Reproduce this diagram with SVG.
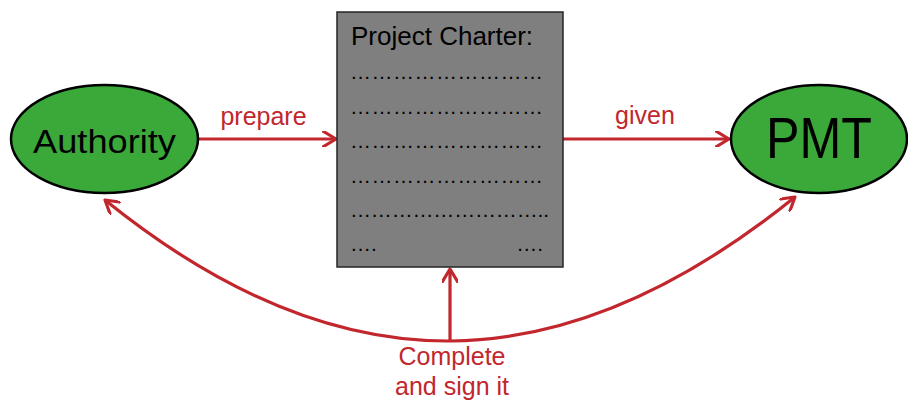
<svg xmlns="http://www.w3.org/2000/svg" width="908" height="403" viewBox="0 0 908 403">
<defs>
<style>
.node{fill:#3aa93a;stroke:#000;stroke-width:2.5}
.box{fill:#7f7f7f;stroke:#262626;stroke-width:1.5}
.conn{fill:none;stroke:#c1272d;stroke-width:3.2}
.lbl{font-family:"Liberation Sans",Arial,sans-serif;font-size:25px;fill:#c1272d;text-anchor:middle}
.ntxt{font-family:"Liberation Sans",Arial,sans-serif;fill:#000;text-anchor:middle}
.doc{font-family:"Liberation Sans",Arial,sans-serif;fill:#000}
</style>
<marker id="arr" viewBox="0 0 16 16" refX="14" refY="8" markerWidth="16" markerHeight="16" markerUnits="userSpaceOnUse" orient="auto-start-reverse">
<path d="M1.5,0.5 L14,8 L1.5,15.5" fill="none" stroke="#c1272d" stroke-width="3.2" stroke-linecap="round" stroke-linejoin="round"/>
</marker>
</defs>
<g id="connectors">
<line class="conn" x1="198" y1="139" x2="336" y2="139" marker-end="url(#arr)"/>
<line class="conn" x1="563" y1="139" x2="729" y2="139" marker-end="url(#arr)"/>
<line class="conn" x1="450" y1="340" x2="450" y2="269" marker-end="url(#arr)"/>
<path class="conn" d="M105,200 C340,390 560,387 795,197" marker-start="url(#arr)" marker-end="url(#arr)"/>
<text class="lbl" x="263.5" y="125">prepare</text>
<text class="lbl" x="645" y="124">given</text>
<text class="lbl" x="452" y="365">Complete</text>
<text class="lbl" x="452" y="395">and sign it</text>
</g>
<g id="authority">
<ellipse class="node" cx="104.5" cy="139" rx="93.5" ry="54"/>
<text class="ntxt" x="104.5" y="153" font-size="34" textLength="143" lengthAdjust="spacingAndGlyphs">Authority</text>
</g>
<g id="charter">
<rect class="box" x="337" y="12" width="226" height="255"/>
<text class="doc" x="351" y="45" font-size="26">Project Charter:</text>
<text class="doc" x="350" y="79" font-size="21" textLength="193">………………………</text>
<text class="doc" x="350" y="114" font-size="21" textLength="193">………………………</text>
<text class="doc" x="350" y="148" font-size="21" textLength="193">………………………</text>
<text class="doc" x="350" y="183" font-size="21" textLength="193">………………………</text>
<text class="doc" x="350" y="217" font-size="21" textLength="199">………………………..</text>
<text class="doc" x="350" y="251" font-size="21">….</text>
<text class="doc" x="543" y="251" font-size="21" text-anchor="end">….</text>
</g>
<g id="pmt">
<ellipse class="node" cx="819" cy="139" rx="88" ry="54"/>
<text class="ntxt" x="819" y="158" font-size="57" textLength="106" lengthAdjust="spacingAndGlyphs">PMT</text>
</g>
</svg>
